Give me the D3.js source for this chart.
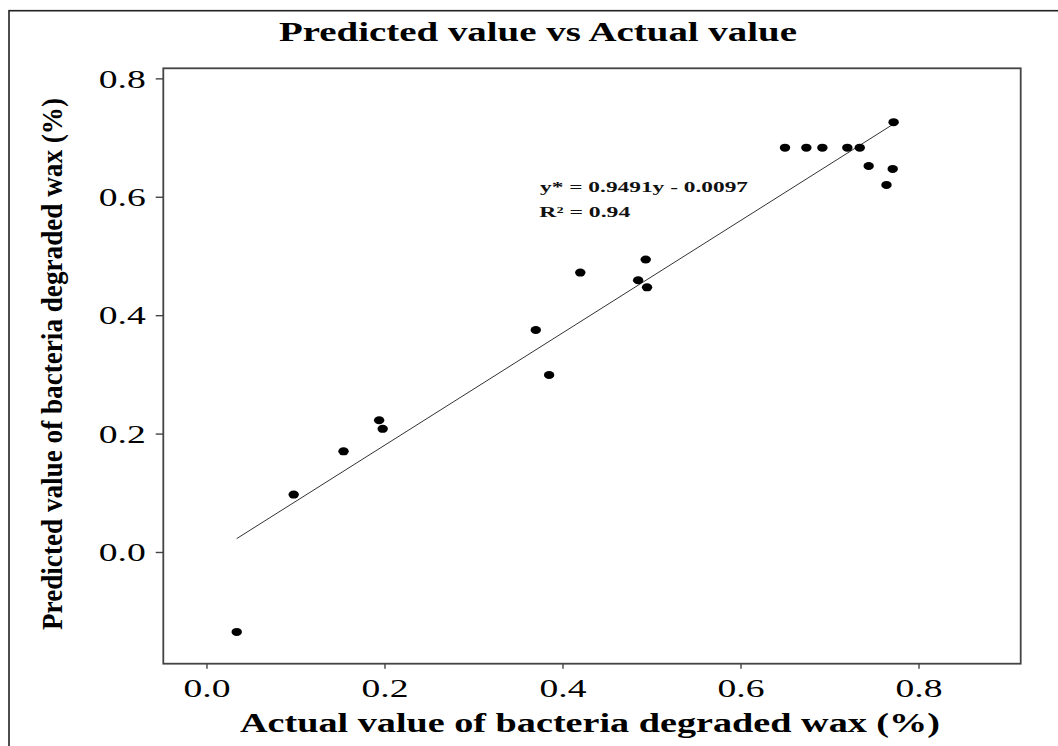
<!DOCTYPE html>
<html><head><meta charset="utf-8">
<script src="https://cdn.jsdelivr.net/npm/d3@7"></script>
<style>body{margin:0;background:#fff} svg{display:block}</style>
</head><body>
<svg id="chart" width="1058" height="746"></svg>
<script>
// ---- data ----
const actual    = [0.034, 0.098, 0.154, 0.194, 0.198, 0.370, 0.385, 0.420, 0.485, 0.4935, 0.495, 0.650, 0.674, 0.692, 0.720, 0.734, 0.772, 0.744, 0.771, 0.764];
const predicted = [-0.135, 0.097, 0.170, 0.2225, 0.208, 0.375, 0.299, 0.472, 0.459, 0.494, 0.447, 0.683, 0.683, 0.683, 0.683, 0.683, 0.726, 0.652, 0.647, 0.620];
const fitX = [0.034, 0.772];
const fitY = [0.0226, 0.7230];
const xTicks = [0.0, 0.2, 0.4, 0.6, 0.8];
const yTicks = [0.0, 0.2, 0.4, 0.6, 0.8];
const titleText = "Predicted value vs Actual value";
const xTitleText = "Actual value of bacteria degraded wax (%)";
const yTitleText = "Predicted value of bacteria degraded wax (%)";
const eqText = "y* = 0.9491y - 0.0097";
const r2Text = "R\u00B2 = 0.94";

// ---- drawing ----
const serif = "'Liberation Serif','Times New Roman',Times,serif";
const svg = d3.select("#chart");
const m = {left: 163.3, top: 68.3, right: 1020.7, bottom: 663.7};
const x = d3.scaleLinear().domain([-0.0485, 0.9148]).range([m.left, m.right]);
const y = d3.scaleLinear().domain([-0.1887, 0.817]).range([m.bottom, m.top]);

svg.append("rect").attr("width", 1058).attr("height", 746).attr("fill", "#fff");

// outer frame
svg.append("rect").attr("x", 9).attr("y", 10.7).attr("width", 1200).attr("height", 1000)
  .attr("fill", "none").attr("stroke", "#222").attr("stroke-width", 1.6);

// axes
const fmt = d3.format(".1f");
const gx = svg.append("g").attr("transform", `translate(0,${m.bottom})`)
  .call(d3.axisBottom(x).tickValues(xTicks).tickFormat(fmt).tickSize(5).tickSizeOuter(0));
gx.select(".domain").remove();
gx.selectAll(".tick line").attr("stroke", "#444").attr("stroke-width", 1.4);
gx.selectAll(".tick text").attr("y", 33).attr("dy", null)
  .attr("font-family", serif).attr("font-size", 24.5).attr("fill", "#000")
  .attr("textLength", 47).attr("lengthAdjust", "spacingAndGlyphs");

const gy = svg.append("g").attr("transform", `translate(${m.left},0)`)
  .call(d3.axisLeft(y).tickValues(yTicks).tickFormat(fmt).tickSize(7.6).tickSizeOuter(0));
gy.select(".domain").remove();
gy.selectAll(".tick line").attr("stroke", "#444").attr("stroke-width", 1.4);
gy.selectAll(".tick text").attr("x", -17.6).attr("dy", null).attr("y", 8.8)
  .attr("font-family", serif).attr("font-size", 24.5).attr("fill", "#000")
  .attr("textLength", 47).attr("lengthAdjust", "spacingAndGlyphs");

// plot frame
svg.append("rect").attr("x", m.left).attr("y", m.top)
  .attr("width", m.right - m.left).attr("height", m.bottom - m.top)
  .attr("fill", "none").attr("stroke", "#444").attr("stroke-width", 1.8);

// regression line
const fit = fitX.map((v, i) => [v, fitY[i]]);
svg.append("path").datum(fit)
  .attr("d", d3.line().x(d => x(d[0])).y(d => y(d[1])))
  .attr("fill", "none").attr("stroke", "#333").attr("stroke-width", 1);

// points
const pts = actual.map((v, i) => ({a: v, p: predicted[i]}));
svg.append("g").selectAll("ellipse").data(pts).join("ellipse")
  .attr("cx", d => x(d.a)).attr("cy", d => y(d.p))
  .attr("rx", 5.2).attr("ry", 4).attr("fill", "#000");

// annotation
svg.append("text").attr("x", 540).attr("y", 191.7).text(eqText)
  .attr("font-family", serif).attr("font-weight", "bold").attr("font-size", 15)
  .attr("textLength", 208).attr("lengthAdjust", "spacingAndGlyphs").attr("fill", "#111");
svg.append("text").attr("x", 539.3).attr("y", 217.3).text(r2Text)
  .attr("font-family", serif).attr("font-weight", "bold").attr("font-size", 15)
  .attr("textLength", 91).attr("lengthAdjust", "spacingAndGlyphs").attr("fill", "#111");

// title
svg.append("text").attr("x", 538).attr("y", 40.5).attr("text-anchor", "middle").text(titleText)
  .attr("font-family", serif).attr("font-weight", "bold").attr("font-size", 27.7)
  .attr("textLength", 518).attr("lengthAdjust", "spacingAndGlyphs").attr("fill", "#000");

// x title
svg.append("text").attr("x", 240).attr("y", 731.7).text(xTitleText)
  .attr("font-family", serif).attr("font-weight", "bold").attr("font-size", 26.7)
  .attr("textLength", 700).attr("lengthAdjust", "spacingAndGlyphs").attr("fill", "#000");

// y title
svg.append("text").attr("transform", "translate(62,364) rotate(-90)")
  .attr("text-anchor", "middle").text(yTitleText)
  .attr("font-family", serif).attr("font-weight", "bold").attr("font-size", 30)
  .attr("textLength", 532).attr("lengthAdjust", "spacingAndGlyphs").attr("fill", "#000");
</script>
</body></html>
